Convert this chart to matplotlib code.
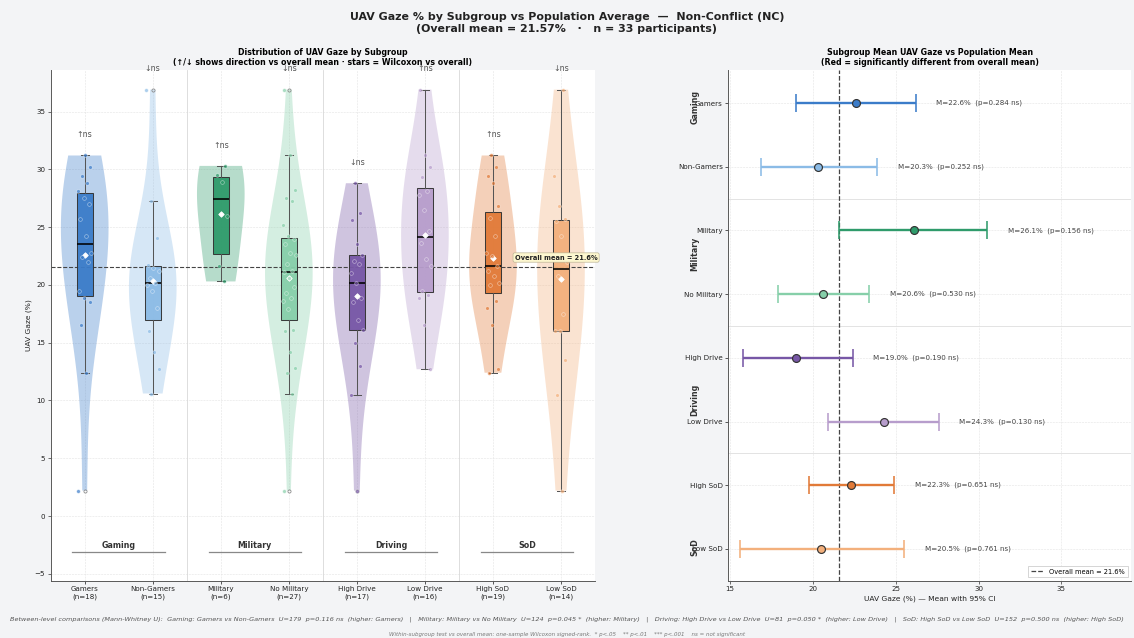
import numpy as np
import matplotlib
matplotlib.use("Agg")
import matplotlib.pyplot as plt
from matplotlib.lines import Line2D

# ---------------- data ----------------
labels = ["Gamers", "Non-Gamers", "Military", "No Military",
          "High Drive", "Low Drive", "High SoD", "Low SoD"]
groups = ["Gaming", "Military", "Driving", "SoD"]

gamers = [2.2, 12.4, 16.5, 18.5, 18.9, 19.5, 22.0, 22.4, 22.8, 24.2,
          25.7, 27.0, 27.5, 28.1, 28.8, 29.4, 30.2, 31.2]
non_gamers = [10.6, 12.7, 14.2, 16.0, 18.0, 19.5, 20.0, 20.2, 20.6, 21.2,
              21.5, 21.7, 24.1, 27.3, 36.9]
military = [20.3, 21.6, 26.0, 28.9, 29.5, 30.3]
no_military = [2.2, 10.6, 12.4, 12.8, 14.2, 16.0, 16.1, 17.9, 18.6, 18.9,
               19.3, 19.8, 20.6, 21.1, 21.2, 21.8, 22.6, 22.8, 23.5, 24.0,
               24.2, 25.2, 27.3, 27.5, 28.2, 31.2, 36.9]
high_drive = [2.2, 10.5, 13.0, 15.0, 16.1, 17.0, 18.5, 18.9, 20.2, 21.0,
              21.8, 22.1, 22.6, 23.5, 25.6, 26.2, 28.8]
low_drive = [12.7, 16.5, 18.9, 19.1, 19.5, 21.6, 22.2, 23.6, 24.7, 26.5,
             27.8, 28.1, 29.3, 30.2, 31.2, 36.9]
high_sod = [12.4, 12.7, 16.5, 18.0, 18.6, 20.0, 20.2, 20.8, 21.2, 21.6,
            22.5, 22.8, 24.2, 25.8, 26.8, 28.8, 29.4, 30.2, 31.2]
low_sod = [2.2, 10.5, 13.5, 16.0, 16.0, 17.5, 20.8, 22.0, 24.2, 25.5,
           25.7, 26.8, 29.4, 36.9]

values = [gamers, non_gamers, military, no_military,
          high_drive, low_drive, high_sod, low_sod]

overall_mean = 21.57
n_participants = 33

ci_low = [19.0, 16.9, 21.6, 17.9, 15.8, 20.9, 19.8, 15.6]
ci_high = [26.2, 23.9, 30.5, 23.4, 22.4, 27.6, 24.9, 25.5]
wilcoxon_p = [0.284, 0.252, 0.156, 0.530, 0.190, 0.130, 0.651, 0.761]
sig_labels = ["ns", "ns", "ns", "ns", "ns", "ns", "ns", "ns"]

colors = ["#3b7cc9", "#8bbbe6", "#2f9b6b", "#86cfa9",
          "#7757a6", "#b79dcc", "#e17a38", "#f3b07c"]

footnote1 = ("Between-level comparisons (Mann-Whitney U):  Gaming: Gamers vs Non-Gamers  U=179  p=0.116 ns  (higher: Gamers)   |   "
             "Military: Military vs No Military  U=124  p=0.045 *  (higher: Military)   |   "
             "Driving: High Drive vs Low Drive  U=81  p=0.050 *  (higher: Low Drive)   |   "
             "SoD: High SoD vs Low SoD  U=152  p=0.500 ns  (higher: High SoD)")
footnote2 = ("Within-subgroup test vs overall mean: one-sample Wilcoxon signed-rank.  * p<.05    ** p<.01    *** p<.001    ns = not significant")

# ---------------- figure ----------------
DPI = 56.7
fig = plt.figure(figsize=(1134 / DPI, 638 / DPI), dpi=DPI)
fig.patch.set_facecolor("#f3f4f6")

ax1 = fig.add_axes([0.0447, 0.0898, 0.48, 0.8005])
ax2 = fig.add_axes([0.6422, 0.0898, 0.3552, 0.8005])

pos = np.arange(len(labels))

# ---- left panel ----
ax1.set_facecolor("white")
ax1.grid(True, ls="--", lw=0.7, color="#e4e4e4", zorder=0)
ax1.set_axisbelow(True)

vp = ax1.violinplot(values, positions=pos, widths=0.7, showextrema=False,
                    bw_method=lambda k: k.num_dp ** (-0.2) * 1.3)
for body, c in zip(vp["bodies"], colors):
    body.set_facecolor(c)
    body.set_edgecolor("none")
    body.set_alpha(0.35)
    body.set_zorder(1)

bp = ax1.boxplot(values, positions=pos, widths=0.23, patch_artist=True,
                 showmeans=True,
                 meanprops=dict(marker="D", markerfacecolor="white",
                                markeredgecolor="white", markersize=5),
                 medianprops=dict(color="black", lw=2),
                 whiskerprops=dict(color="#555555", lw=1.3),
                 capprops=dict(color="#555555", lw=1.3),
                 flierprops=dict(marker="o", markerfacecolor="none",
                                 markeredgecolor="#888888", markersize=4),
                 boxprops=dict(edgecolor="#333333", lw=1.3),
                 zorder=3)
for patch, c in zip(bp["boxes"], colors):
    patch.set_facecolor(c)
    patch.set_alpha(0.95)

for i, (vals, c) in enumerate(zip(values, colors)):
    k = np.arange(len(vals))
    jitter = (((k * 0.618034 + i * 0.37) % 1.0) - 0.5) * 0.2
    ax1.scatter(i + jitter, vals, s=22, color=c, alpha=0.7,
                edgecolor="white", linewidth=0.6, zorder=4)
    m = np.mean(vals)
    arrow = "\u2191" if m > overall_mean else "\u2193"
    ax1.text(i, max(vals) + 1.8, arrow + sig_labels[i], ha="center",
             va="center", fontsize=10, color="#555555", zorder=5)

ax1.axhline(overall_mean, color="#444444", ls="--", lw=1.4, zorder=2)
ax1.text(6.32, overall_mean + 0.8, f"Overall mean = {overall_mean:.1f}%",
         fontsize=8.5, fontweight="bold", color="#222222", va="center",
         ha="left", zorder=6,
         bbox=dict(boxstyle="round,pad=0.25", fc="#fdf7cf", ec="#b8b090", lw=0.8))

for x in [1.5, 3.5, 5.5]:
    ax1.axvline(x, color="#d6d6d6", lw=1.0, zorder=1)

for gi, g in enumerate(groups):
    cx = 2 * gi + 0.5
    ax1.plot([cx - 0.68, cx + 0.68], [-3.15, -3.15], color="#888888", lw=1.6,
             zorder=2)
    ax1.text(cx, -2.95, g, ha="center", va="bottom", fontsize=10,
             fontweight="bold", color="#333333")

ax1.set_xlim(-0.5, 7.5)
ax1.set_ylim(-5.6, 38.6)
ax1.set_xticks(pos)
ax1.set_xticklabels([f"{l}\n(n={len(v)})" for l, v in zip(labels, values)],
                    fontsize=9, color="#222222")
ax1.tick_params(axis="y", labelsize=9, colors="#222222")
ax1.set_ylabel("UAV Gaze (%)", fontsize=9.5, color="#222222")
for s in ["top", "right"]:
    ax1.spines[s].set_visible(False)
for s in ["left", "bottom"]:
    ax1.spines[s].set_color("#555555")
    ax1.spines[s].set_linewidth(1.2)
ax1.set_title("Distribution of UAV Gaze by Subgroup\n"
              "(\u2191/\u2193 shows direction vs overall mean \u00b7 stars = Wilcoxon vs overall)",
              fontsize=10, fontweight="bold", pad=6)

# ---- right panel ----
ax2.set_facecolor("white")
ax2.grid(True, ls="--", lw=0.7, color="#e4e4e4", zorder=0)
ax2.set_axisbelow(True)
for i, (vals, c) in enumerate(zip(values, colors)):
    m = np.mean(vals)
    ecol = "#d62728" if wilcoxon_p[i] < 0.05 else c
    ax2.errorbar(m, i, xerr=[[m - ci_low[i]], [ci_high[i] - m]], fmt="none",
                 ecolor=ecol, elinewidth=3, capsize=12, capthick=2, zorder=3)
    ax2.plot(m, i, "o", ms=10, mfc=c, mec="#333333", mew=1.5, zorder=4)
    ax2.text(ci_high[i] + 1.25, i, f"M={m:.1f}%  (p={wilcoxon_p[i]:.3f} {sig_labels[i]})",
             va="center", ha="left", fontsize=9, color="#444444")

ax2.axvline(overall_mean, color="#444444", ls="--", lw=1.6, zorder=2)
for y in [1.5, 3.5, 5.5]:
    ax2.axhline(y, color="#e2e2e2", lw=1.2, zorder=1)

group_y = [0.072, 0.36, 0.645, 0.934]
for g, gy in zip(groups, group_y):
    ax2.text(-0.083, 1 - gy, g, transform=ax2.transAxes, rotation=90,
             ha="center", va="center", fontsize=10, fontweight="bold",
             color="#333333")

ax2.set_yticks(pos)
ax2.set_yticklabels(labels, fontsize=9, color="#222222")
ax2.set_ylim(7.5, -0.52)
ax2.set_xlim(14.9, 39.2)
ax2.set_xticks([15, 20, 25, 30, 35])
ax2.tick_params(axis="x", labelsize=9, colors="#222222")
ax2.set_xlabel("UAV Gaze (%) \u2014 Mean with 95% CI", fontsize=9.5, color="#222222")
for s in ["top", "right"]:
    ax2.spines[s].set_visible(False)
for s in ["left", "bottom"]:
    ax2.spines[s].set_color("#555555")
    ax2.spines[s].set_linewidth(1.2)
ax2.legend(handles=[Line2D([0], [0], color="#444444", ls="--", lw=1.6,
                           label=f"Overall mean = {overall_mean:.1f}%")],
           loc="lower right", fontsize=8.5, frameon=True, framealpha=1,
           edgecolor="#cccccc", fancybox=False)
ax2.set_title("Subgroup Mean UAV Gaze vs Population Mean\n"
              "(Red = significantly different from overall mean)",
              fontsize=10, fontweight="bold", pad=6)

fig.suptitle(f"UAV Gaze % by Subgroup vs Population Average  \u2014  Non-Conflict (NC)\n"
             f"(Overall mean = {overall_mean:.2f}%   \u00b7   n = {n_participants} participants)",
             fontsize=14, fontweight="bold", y=0.981, color="#222222")

fig.text(0.5, 0.03, footnote1, ha="center", va="center", fontsize=8.3,
         style="italic", color="#555555")
fig.text(0.5, 0.006, footnote2, ha="center", va="center", fontsize=7,
         style="italic", color="#777777")

fig.savefig("out.png", dpi=DPI, facecolor=fig.get_facecolor())
